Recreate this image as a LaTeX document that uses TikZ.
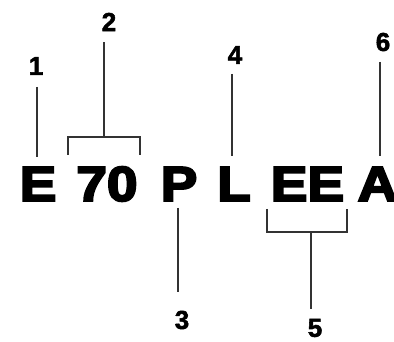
\documentclass[tikz,border=0pt]{standalone}
\usepackage{fontspec}
\setmainfont{Liberation Sans}
\newfontfamily\heavy[FakeBold=4]{Liberation Sans Bold}
\newfontfamily\lab[FakeBold=2]{Liberation Sans Bold}
\begin{document}
\begin{tikzpicture}[x=1pt,y=-1pt,
  big/.style={inner sep=0pt,outer sep=0pt,xscale=1.12,font=\heavy\fontsize{49}{49}\selectfont},
  num/.style={inner sep=0pt,outer sep=0pt,font=\lab\fontsize{26}{26}\selectfont},
  conn/.style={line width=2pt,draw=black!80}]
\useasboundingbox[fill=white] (0,0) rectangle (394,342);
% main text
\node[big] (E) at (38,184) {E};
\node[big] (S70) at (107,184) {70};
\node[big] (P) at (179,184) {P};
\node[big] (L) at (234,184) {L};
\node[big] (EE) at (307.5,184) {EE};
\node[big] (A) at (377.5,184) {A};
% labels
\node[num] (l1) at (36,66) {1};
\node[num] (l2) at (109,22) {2};
\node[num] (l3) at (182,320) {3};
\node[num] (l4) at (235,55) {4};
\node[num] (l5) at (315,328) {5};
\node[num] (l6) at (383,42) {6};
% connectors
\coordinate (c1a) at (37,87);  \coordinate (c1b) at (37,157);
\draw[conn] (c1a) -- (c1b);
\coordinate (c4a) at (232,74); \coordinate (c4b) at (232,156);
\draw[conn] (c4a) -- (c4b);
\coordinate (c6a) at (380,62); \coordinate (c6b) at (380,156);
\draw[conn] (c6a) -- (c6b);
\coordinate (c3a) at (178,208); \coordinate (c3b) at (178,292);
\draw[conn] (c3a) -- (c3b);
% bracket 2
\coordinate (b2l) at (68,155); \coordinate (b2r) at (140,155);
\coordinate (b2m) at (104,137); \coordinate (b2t) at (104,42);
\draw[conn] (b2l) |- (b2m) -| (b2r);
\draw[conn] (b2m) -- (b2t);
% bracket 5
\coordinate (b5l) at (267,209); \coordinate (b5r) at (347,209);
\coordinate (b5m) at (311,232); \coordinate (b5t) at (311,309);
\draw[conn] (b5l) |- (b5m) -| (b5r);
\draw[conn] (b5m) -- (b5t);
\end{tikzpicture}
\end{document}
